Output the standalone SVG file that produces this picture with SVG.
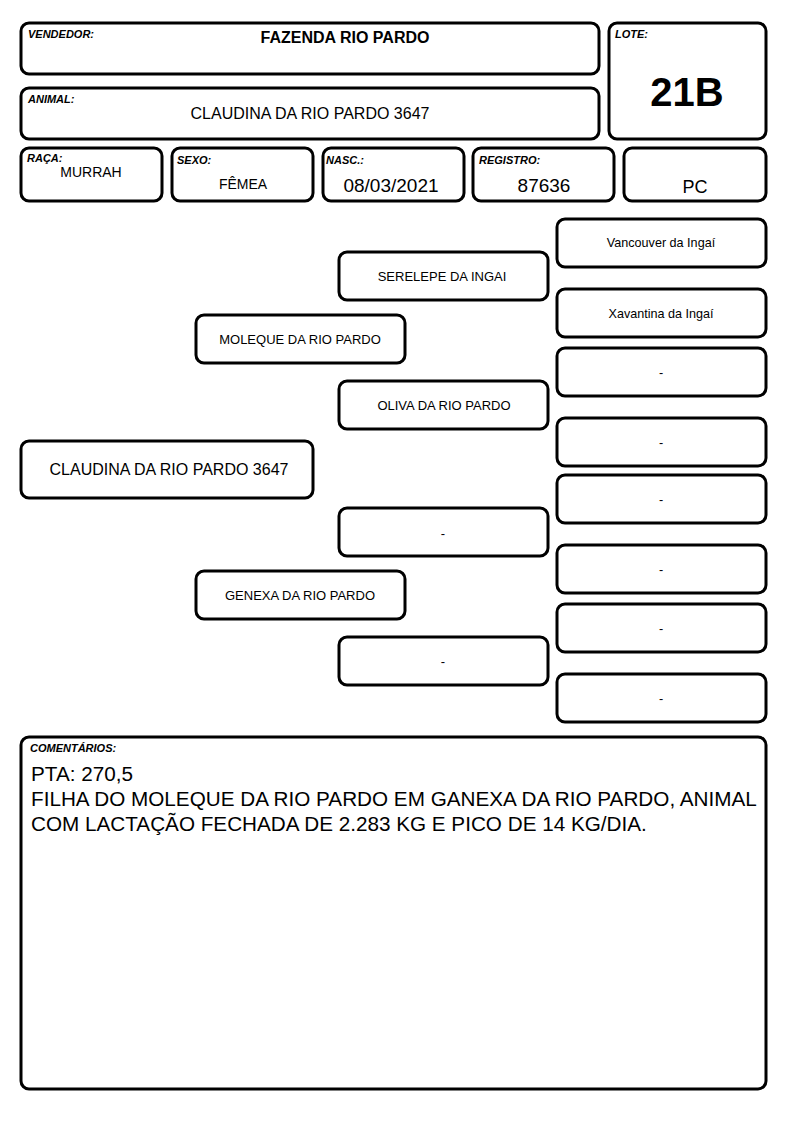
<svg xmlns="http://www.w3.org/2000/svg" width="794" height="1123" viewBox="0 0 794 1123">
<style>
.b{fill:#fff;stroke:#000;stroke-width:3}
.l{font-family:"Liberation Sans",Arial,sans-serif;font-size:11px;font-weight:bold;font-style:italic;fill:#000}
.t{font-family:"Liberation Sans",Arial,sans-serif;fill:#000;text-anchor:middle}
.p{font-family:"Liberation Sans",Arial,sans-serif;fill:#000;text-anchor:middle;font-size:13px}
.s{font-family:"Liberation Sans",Arial,sans-serif;fill:#000;text-anchor:middle;font-size:12.6px}
.c{font-family:"Liberation Sans",Arial,sans-serif;font-size:20.7px;fill:#000}
</style>
<rect width="794" height="1123" fill="#fff"/>
<g id="vendedor"><rect class="b" x="21" y="23" width="578" height="51" rx="8"/><text class="l" x="28" y="38">VENDEDOR:</text><text class="t" x="345" y="43" font-size="16" font-weight="bold">FAZENDA RIO PARDO</text></g>
<g id="animal"><rect class="b" x="21" y="88" width="578" height="51" rx="8"/><text class="l" x="28" y="103">ANIMAL:</text><text class="t" x="310" y="119" font-size="16">CLAUDINA DA RIO PARDO 3647</text></g>
<g id="lote"><rect class="b" x="609" y="23" width="157" height="116" rx="8"/><text class="l" x="615" y="38">LOTE:</text><text class="t" x="687" y="106" font-size="40" font-weight="bold">21B</text></g>
<g id="raca"><rect class="b" x="21" y="148" width="141" height="53" rx="8"/><text class="l" x="27" y="162">RAÇA:</text><text class="t" x="91" y="177" font-size="14">MURRAH</text></g>
<g id="sexo"><rect class="b" x="172" y="148" width="141" height="53" rx="8"/><text class="l" x="177" y="164">SEXO:</text><text class="t" x="243" y="189" font-size="14">FÊMEA</text></g>
<g id="nasc"><rect class="b" x="323" y="148" width="141" height="53" rx="8"/><text class="l" x="326" y="164">NASC.:</text><text class="t" x="391" y="192" font-size="19">08/03/2021</text></g>
<g id="registro"><rect class="b" x="473" y="148" width="141" height="53" rx="8"/><text class="l" x="479" y="164">REGISTRO:</text><text class="t" x="544" y="192" font-size="19">87636</text></g>
<g id="pc"><rect class="b" x="624" y="148" width="142" height="53" rx="8"/><text class="t" x="695" y="193" font-size="18">PC</text></g>
<g id="claudina"><rect class="b" x="21" y="441" width="292" height="57" rx="8"/><text class="t" x="169" y="475" font-size="16">CLAUDINA DA RIO PARDO 3647</text></g>
<g id="moleque"><rect class="b" x="196" y="315" width="209" height="48" rx="8"/><text class="p" x="300" y="344">MOLEQUE DA RIO PARDO</text></g>
<g id="genexa"><rect class="b" x="196" y="571" width="209" height="48" rx="8"/><text class="p" x="300" y="600">GENEXA DA RIO PARDO</text></g>
<g id="serelepe"><rect class="b" x="339" y="252" width="209" height="48" rx="8"/><text class="p" x="442" y="281">SERELEPE DA INGAI</text></g>
<g id="oliva"><rect class="b" x="339" y="381" width="209" height="48" rx="8"/><text class="p" x="444" y="410">OLIVA DA RIO PARDO</text></g>
<g id="mgs"><rect class="b" x="339" y="508" width="209" height="48" rx="8"/><text class="p" x="443" y="538">-</text></g>
<g id="mgd"><rect class="b" x="339" y="637" width="209" height="48" rx="8"/><text class="p" x="443" y="666">-</text></g>
<g id="vancouver"><rect class="b" x="557" y="219" width="209" height="48" rx="8"/><text class="s" x="661" y="247">Vancouver da Ingaí</text></g>
<g id="xavantina"><rect class="b" x="557" y="289" width="209" height="48" rx="8"/><text class="s" x="661" y="318">Xavantina da Ingaí</text></g>
<g id="g3"><rect class="b" x="557" y="348" width="209" height="48" rx="8"/><text class="s" x="661" y="377">-</text></g>
<g id="g4"><rect class="b" x="557" y="418" width="209" height="48" rx="8"/><text class="s" x="661" y="447">-</text></g>
<g id="g5"><rect class="b" x="557" y="475" width="209" height="48" rx="8"/><text class="s" x="661" y="504">-</text></g>
<g id="g6"><rect class="b" x="557" y="545" width="209" height="48" rx="8"/><text class="s" x="661" y="574">-</text></g>
<g id="g7"><rect class="b" x="557" y="604" width="209" height="48" rx="8"/><text class="s" x="661" y="633">-</text></g>
<g id="g8"><rect class="b" x="557" y="674" width="209" height="48" rx="8"/><text class="s" x="661" y="703">-</text></g>
<g id="connectors"></g>
<g id="comentarios"><rect class="b" x="21" y="737" width="745" height="352" rx="8"/><text class="l" x="30" y="752">COMENTÁRIOS:</text>
<text class="c" x="31" y="781">PTA: 270,5</text>
<text class="c" x="31" y="806">FILHA DO MOLEQUE DA RIO PARDO EM GANEXA DA RIO PARDO, ANIMAL</text>
<text class="c" x="31" y="831">COM LACTAÇÃO FECHADA DE 2.283 KG E PICO DE 14 KG/DIA.</text></g>
</svg>
